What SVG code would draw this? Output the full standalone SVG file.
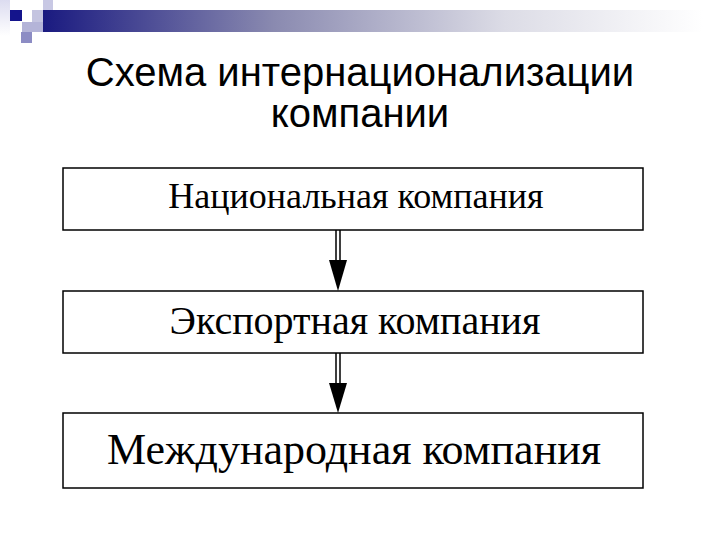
<svg xmlns="http://www.w3.org/2000/svg" width="720" height="540" viewBox="0 0 720 540">
  <defs>
    <linearGradient id="bar" x1="0" y1="0" x2="1" y2="0">
      <stop offset="0" stop-color="#1a1a80"/>
      <stop offset="0.35" stop-color="#8a8ab0"/>
      <stop offset="0.7" stop-color="#dcdce6"/>
      <stop offset="1" stop-color="#ffffff"/>
    </linearGradient>
    <linearGradient id="side" x1="0" y1="0" x2="0" y2="1">
      <stop offset="0" stop-color="#dcdcf0"/>
      <stop offset="1" stop-color="#ffffff"/>
    </linearGradient>
  </defs>
  <style>
    .box { fill: #ffffff; stroke: #000000; stroke-width: 1.5; }
    .lbl { font-family: "Liberation Serif", "Times New Roman", serif; fill: #000000; text-anchor: middle; }
    .title { font-family: "Liberation Sans", Arial, sans-serif; font-size: 40px; fill: #000000; text-anchor: middle; }
    .shaft { stroke: #000000; stroke-width: 1.5; fill: none; }
    .head { fill: #000000; }
  </style>
  <rect width="720" height="540" fill="#ffffff"/>
  <g id="decoration">
    <rect x="0" y="0" width="10" height="36" fill="url(#side)"/>
    <rect x="43" y="0" width="10" height="12" fill="#c8c8e4"/>
    <rect x="43" y="10" width="660" height="22" fill="url(#bar)"/>
    <rect x="32" y="10" width="11" height="12" fill="#c4c4e0"/>
    <rect x="22" y="22" width="21" height="10" fill="#b4b4d8"/>
    <rect x="21" y="32" width="11" height="11" fill="#8c8cc4"/>
    <rect x="10" y="10" width="12" height="11" fill="#14148c"/>
  </g>
  <g id="title">
    <text class="title" x="360" y="86">Схема интернационализации</text>
    <text class="title" x="360" y="127">компании</text>
  </g>
  <g id="node1">
    <rect class="box" x="63" y="168" width="580" height="62"/>
    <text class="lbl" x="356" y="208" font-size="36">Национальная компания</text>
  </g>
  <g id="node2">
    <rect class="box" x="63" y="291" width="580" height="62"/>
    <text class="lbl" x="355" y="334" font-size="40">Экспортная компания</text>
  </g>
  <g id="node3">
    <rect class="box" x="63" y="413" width="580" height="75"/>
    <text class="lbl" x="354" y="464" font-size="44">Международная компания</text>
  </g>
  <g id="connectors">
    <path class="shaft" d="M336 230 V261 M340 230 V261"/>
    <polygon class="head" points="329,260 347,260 338,291"/>
    <path class="shaft" d="M336 353 V384 M340 353 V384"/>
    <polygon class="head" points="329,383 347,383 338,413"/>
  </g>
</svg>
